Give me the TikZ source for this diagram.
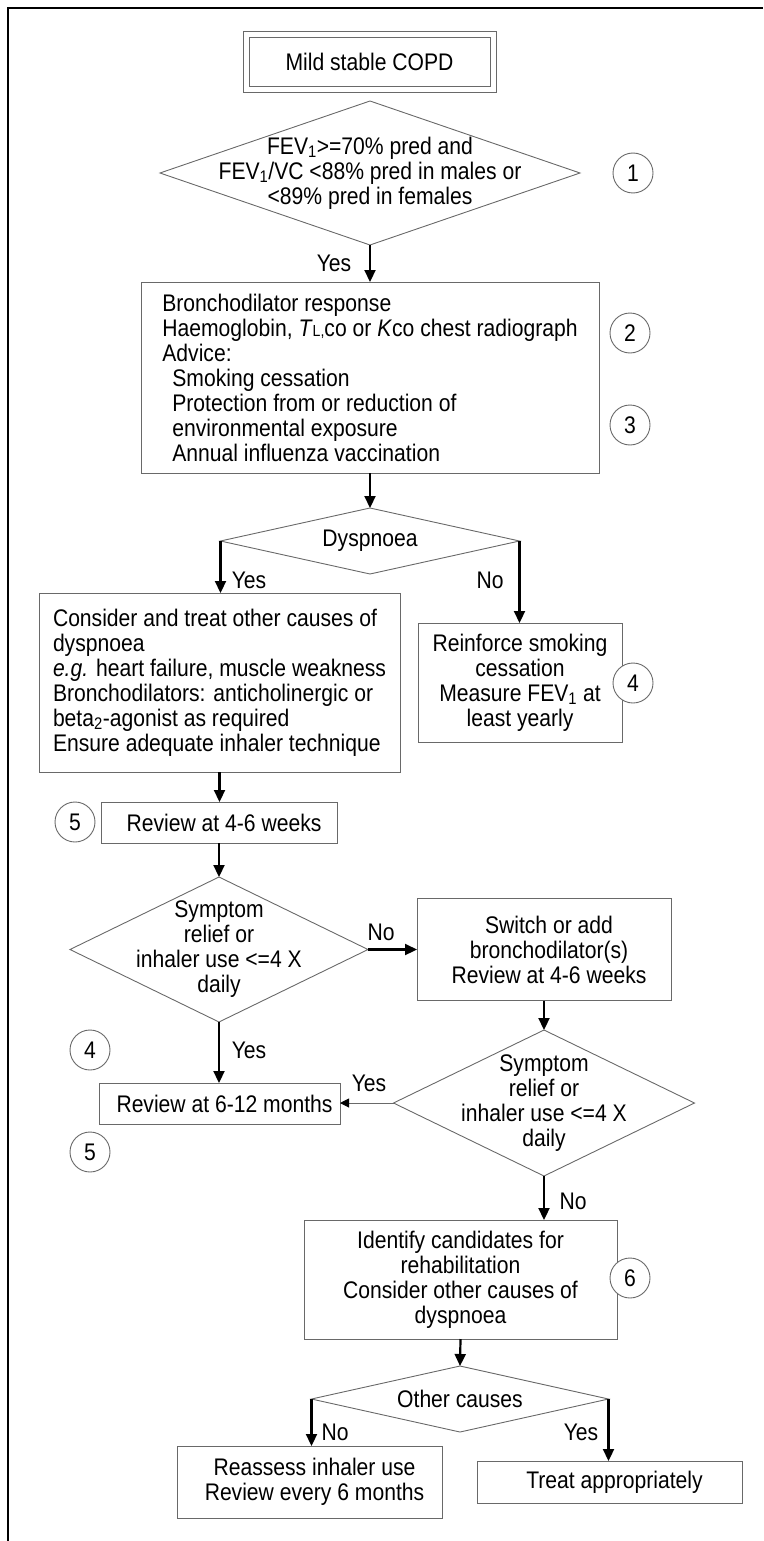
\documentclass[tikz,border=0pt]{standalone}
\usepackage{fontspec}
\setmainfont{Liberation Sans}[FakeStretch=0.88]
\usetikzlibrary{shapes.geometric,arrows.meta}
\definecolor{bord}{RGB}{105,105,105}
\begin{document}
\begin{tikzpicture}[x=1pt,y=-1pt,
  every node/.style={font=\fontsize{24}{25}\selectfont},
  box/.style={draw=bord,line width=0.9pt,rectangle,inner sep=0pt,outer sep=0pt,align=center},
  lbox/.style={box,align=left},
  dia/.style={draw=bord,line width=0.9pt,diamond,inner sep=0pt,outer sep=0pt},
  txt/.style={inner sep=0pt,align=center},
  lbl/.style={inner sep=0pt},
  num/.style={draw=bord,line width=0.9pt,circle,fill=white,minimum size=40pt,inner sep=0pt},
  arr/.style={line width=2.2pt,-{Triangle[length=12pt,width=11pt]}},
  thinarr/.style={draw=bord,line width=0.9pt,-{Triangle[length=9pt,width=9pt,color=black]}}
]
\useasboundingbox (0,0) rectangle (763,1541);
% frame
\coordinate (fa) at (8,1541);
\coordinate (fb) at (8,8);
\coordinate (fc) at (763,8);
\draw[line width=2.6pt] (fa) -- (fb) -- (fc);

% start box (double border)
\node[box,minimum width=253pt,minimum height=61pt] (mild) at (369.5,61.5) {};
\node[box,minimum width=241pt,minimum height=49pt] (mildin) at (mild) {Mild stable COPD};

% diamond 1
\node[dia,minimum width=420pt,minimum height=144pt] (d1) at (370,173) {};
\node[txt] (d1t) at (d1) {FEV\textsubscript{1}>=70\% pred and\\FEV\textsubscript{1}/VC <88\% pred in males or\\<89\% pred in females};
\node[num] (n1) at (633,173) {1};

% box 2
\node[lbox,minimum width=458pt,minimum height=191pt] (b2) at (370,377.5) {Bronchodilator response\\
Haemoglobin, \textit{T}{\fontsize{16}{16}\selectfont L,}co or \textit{K}co chest radiograph\\
Advice:\\
\hspace*{10pt}Smoking cessation\\
\hspace*{10pt}Protection from or reduction of\\
\hspace*{10pt}environmental exposure\\
\hspace*{10pt}Annual influenza vaccination};
\node[num] (n2) at (630,333) {2};
\node[num] (n3) at (630,425) {3};

% dyspnoea diamond
\node[dia,minimum width=299pt,minimum height=66pt] (dysp) at (370,541) {};
\node[txt] (dyspt) at (dysp) {Dyspnoea};

% box 3
\node[lbox,minimum width=361pt,minimum height=179pt] (b3) at (219.5,682.5) {Consider and treat other causes of\\
dyspnoea\\
\textit{e.g.} heart failure, muscle weakness\\
Bronchodilators: anticholinergic or\\
beta\textsubscript{2}-agonist as required\\
Ensure adequate inhaler technique};

% box 4
\node[box,minimum width=204pt,minimum height=119pt] (b4) at (520,682.5) {Reinforce smoking\\cessation\\Measure FEV\textsubscript{1} at\\least yearly};
\node[num] (n4a) at (633,683) {4};

% review 4-6 weeks
\node[box,minimum width=236pt,minimum height=41pt] (rev1) at (219,822.5) {\hspace*{10pt}Review at 4-6 weeks};
\node[num] (n5a) at (75,822) {5};

% diamond 3
\node[dia,minimum width=298pt,minimum height=145pt] (d3) at (219,949.5) {};
\node[txt] (d3t) at (d3) {Symptom\\relief or\\inhaler use <=4 X\\daily};

% box 5
\node[box,minimum width=254pt,minimum height=102pt] (b5) at (544,949.5) {\hspace*{10pt}Switch or add\\\hspace*{10pt}bronchodilator(s)\\\hspace*{10pt}Review at 4-6 weeks};

% review 6-12 months
\node[box,minimum width=241pt,minimum height=41pt] (rev2) at (219.5,1103.5) {\hspace*{10pt}Review at 6-12 months};
\node[num] (n4b) at (90,1050) {4};
\node[num] (n5b) at (90,1152) {5};

% diamond 4
\node[dia,minimum width=301pt,minimum height=146pt] (d4) at (544,1103) {};
\node[txt] (d4t) at (d4) {Symptom\\relief or\\inhaler use <=4 X\\daily};

% box 6
\node[box,minimum width=313pt,minimum height=119pt] (b6) at (460.5,1279.5) {Identify candidates for\\rehabilitation\\Consider other causes of\\dyspnoea};
\node[num] (n6) at (630,1278) {6};

% diamond 5
\node[dia,minimum width=297pt,minimum height=66pt] (d5) at (460,1399) {};
\node[txt] (d5t) at (d5) {Other causes};

% box 7, box 8
\node[box,minimum width=265pt,minimum height=72pt] (b7) at (309.5,1482) {\hspace*{10pt}Reassess inhaler use\\\hspace*{10pt}Review every 6 months};
\node[box,minimum width=265pt,minimum height=42pt] (b8) at (609.5,1482) {\hspace*{10pt}Treat appropriately};

% labels
\node[lbl] (l1) at (334,263) {Yes};
\node[lbl] (l2) at (249,580) {Yes};
\node[lbl] (l3) at (490,580) {No};
\node[lbl] (l4) at (381,932) {No};
\node[lbl] (l5) at (249,1050) {Yes};
\node[lbl] (l6) at (369,1083) {Yes};
\node[lbl] (l7) at (573,1201) {No};
\node[lbl] (l8) at (335,1432) {No};
\node[lbl] (l9) at (581,1432) {Yes};

% connectors
\draw[arr] (d1.south) -- (b2.north);
\draw[arr] (b2.south) -- (dysp.north);
\draw[arr] (dysp.west) -- (dysp.west |- b3.north);
\draw[arr] (dysp.east) -- (dysp.east |- b4.north);
\draw[arr] (b3.south) -- (b3.south |- rev1.north);
\draw[arr] (rev1.south) -- (d3.north);
\draw[arr] (d3.east) -- (d3.east -| b5.west);
\draw[arr] (b5.south) -- (d4.north);
\draw[arr] (d3.south) -- (d3.south |- rev2.north);
\draw[thinarr] (d4.west) -- (d4.west -| rev2.east);
\draw[arr] (d4.south) -- (d4.south |- b6.north);
\draw[arr] (b6.south) -- (d5.north);
\draw[arr] (d5.west) -- (d5.west |- b7.north);
\draw[arr] (d5.east) -- (d5.east |- b8.north);
\end{tikzpicture}
\end{document}
